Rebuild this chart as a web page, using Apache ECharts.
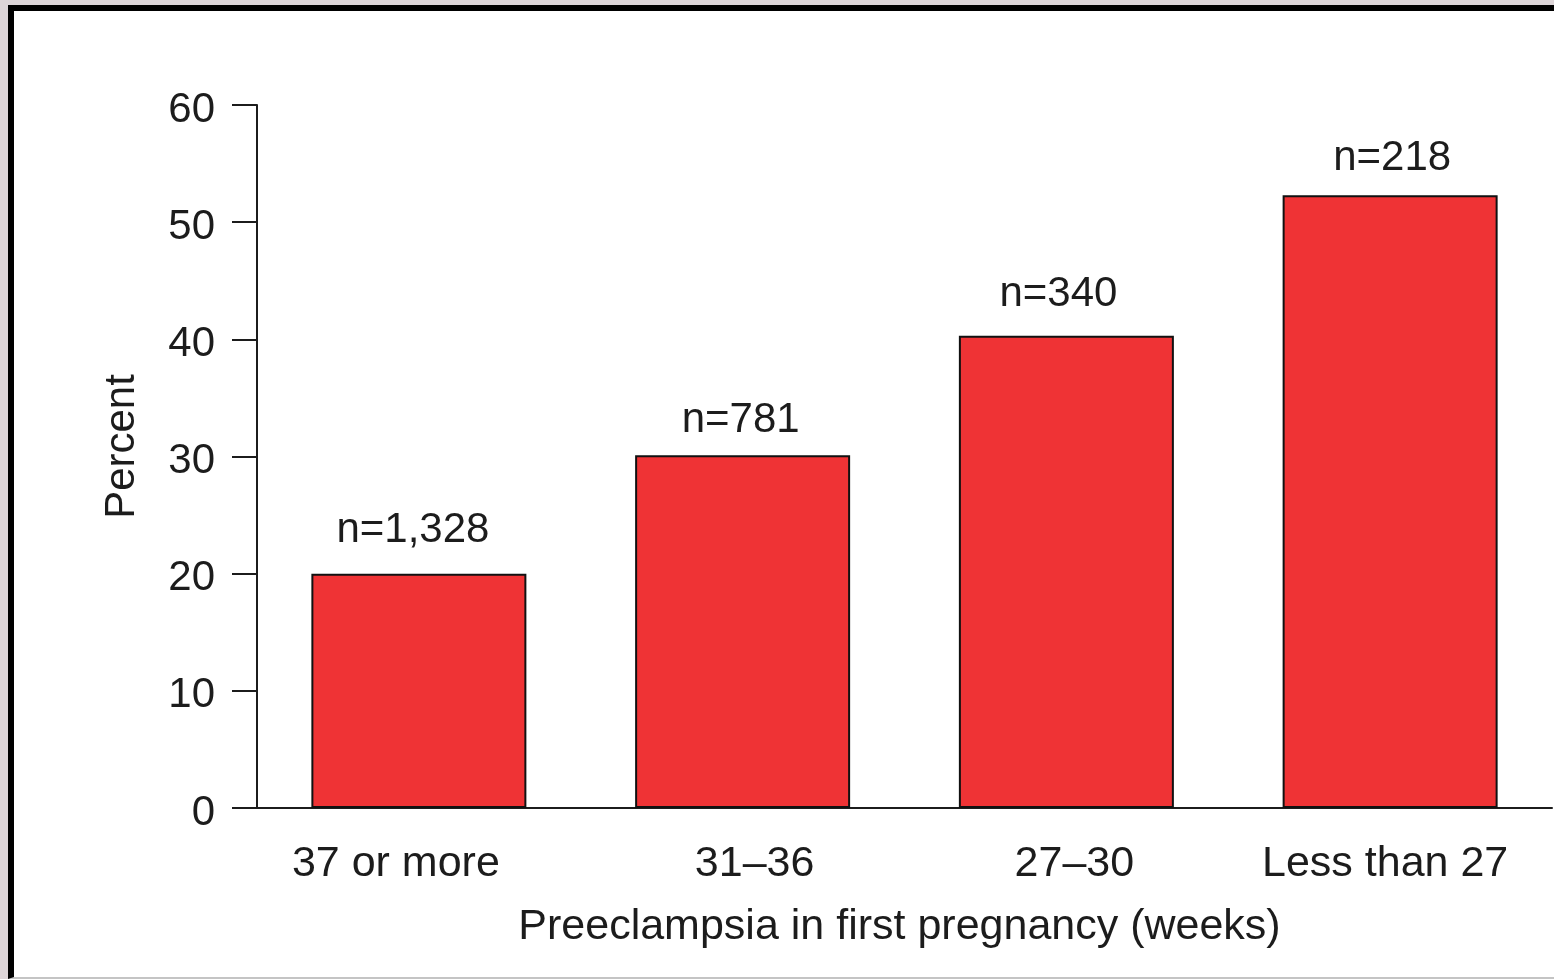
<!DOCTYPE html>
<html>
<head>
<meta charset="utf-8">
<script src="https://cdn.jsdelivr.net/npm/echarts@6/dist/echarts.min.js"></script>
<style>
  html, body { margin: 0; padding: 0; width: 1554px; height: 979px; overflow: hidden; background: #ddd5d8; }
  #frame {
    position: absolute; left: 8px; top: 5px; width: 1600px; height: 966px;
    background: #fff; border-left: 6px solid #000; border-top: 6px solid #000;
    border-bottom: 2px solid #c4c4c4;
  }
  #chart { position: absolute; left: 0; top: 0; width: 1554px; height: 979px; }
</style>
</head>
<body>
<div id="frame"></div>
<div id="chart"></div>
<script>
  // weeks of preeclampsia in first pregnancy
  const categories = ["37 or more", "31\u201336", "27\u201330", "Less than 27"];
  const percentValues = [20.0, 30.1, 40.3, 52.3];
  const sampleSizes = ["n=1,328", "n=781", "n=340", "n=218"];
  const yTicks = [0, 10, 20, 30, 40, 50, 60];

  const font = "'Liberation Sans', Arial, Helvetica, sans-serif";
  const ink = "#1c1c1c";

  // the original figure's labels sit a little off-centre
  const catLabelNudge = [-23, 12, 8, -5];
  const barLabelNudge = [-6, -2, -8, 2];
  const barLabelGap = [22, 14, 20, 16];

  const nudgePad = (dx) => (dx < 0 ? [0, -2 * dx, 0, 0] : [0, 0, 0, 2 * dx]);

  const chart = echarts.init(document.getElementById("chart"), null, { renderer: "canvas" });

  const option = {
    backgroundColor: "transparent",
    animation: false,
    grid: { left: 257, right: 2, top: 105, bottom: 171, containLabel: false },
    xAxis: {
      type: "category",
      data: categories.map((c, i) => ({ value: c, textStyle: { padding: nudgePad(catLabelNudge[i]) } })),
      axisLine: { show: true, lineStyle: { color: ink, width: 2 } },
      axisTick: { show: false },
      axisLabel: { color: ink, fontFamily: font, fontSize: 43, margin: 35 },
      name: "Preeclampsia in first pregnancy (weeks)",
      nameLocation: "middle",
      nameGap: 98,
      nameTextStyle: { color: ink, fontFamily: font, fontSize: 43, padding: [0, 10, 0, 0] },
    },
    yAxis: {
      type: "value",
      min: yTicks[0],
      max: yTicks[yTicks.length - 1],
      interval: 10,
      splitLine: { show: false },
      axisLine: { show: true, lineStyle: { color: ink, width: 2 } },
      axisTick: { show: true, length: 25, lineStyle: { color: ink, width: 2 } },
      axisLabel: {
        margin: 42,
        formatter: "{t|{value}}",
        rich: { t: { color: ink, fontFamily: font, fontSize: 42, padding: [10, 0, 0, 0] } },
      },
      name: "Percent",
      nameLocation: "middle",
      nameGap: 114,
      nameRotate: 90,
      nameTextStyle: { color: ink, fontFamily: font, fontSize: 42, padding: [0, 0, 0, 20] },
    },
    series: [
      {
        type: "bar",
        data: percentValues.map((v, i) => ({
          value: v,
          label: { distance: barLabelGap[i], padding: nudgePad(barLabelNudge[i]) },
        })),
        barWidth: 215,
        itemStyle: { color: "#ef3335", borderColor: "#111", borderWidth: 2 },
        label: {
          show: true,
          position: "top",
          color: ink,
          fontFamily: font,
          fontSize: 42,
          formatter: (p) => sampleSizes[p.dataIndex],
        },
      },
    ],
  };

  chart.setOption(option);
</script>
</body>
</html>
